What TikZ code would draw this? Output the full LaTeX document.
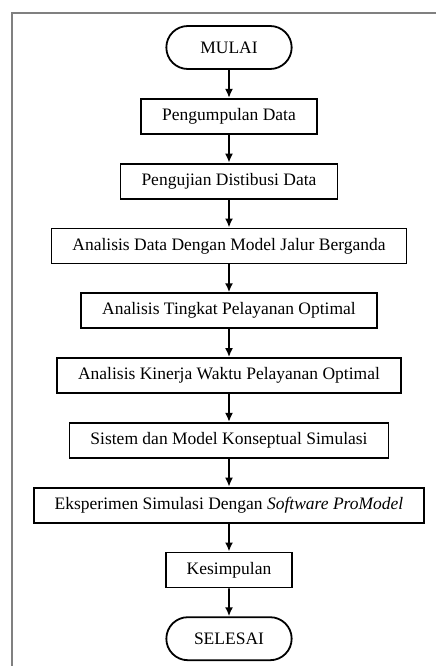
\documentclass[tikz,border=0pt]{standalone}
\usepackage{fontspec}
\setmainfont{Liberation Serif}
\usetikzlibrary{positioning}
\usetikzlibrary{arrows.meta}
\usetikzlibrary{shapes.misc}

\begin{document}
\begin{tikzpicture}[x=1pt, y=-1pt, node distance={28pt},
    proses/.style = {draw, line width=1.8pt, rectangle, minimum height=35pt, inner xsep=21pt, font=\fontsize{17.5}{19}\selectfont},
    terminal/.style = {draw, line width=1.8pt, rounded rectangle, minimum width=132pt, minimum height=43pt, font=\fontsize{17.5}{19}\selectfont},
    panah/.style = {-{Latex[length=9pt, width=8pt]}, line width=1.8pt}]
    \useasboundingbox (0,0) rectangle (436,666);
    \draw[line width=2pt, gray] (436,13) -- (12,13) -- (12,666);

    \node[terminal] (mulai) at (229,47.5) {MULAI};
    \node[proses] (kumpul) [below=of mulai] {Pengumpulan Data};
    \node[proses] (uji) [below=of kumpul] {Pengujian Distibusi Data};
    \node[proses] (jalur) [below=of uji] {Analisis Data Dengan Model Jalur Berganda};
    \node[proses] (tingkat) [below=of jalur] {Analisis Tingkat Pelayanan Optimal};
    \node[proses] (kinerja) [below=of tingkat] {Analisis Kinerja Waktu Pelayanan Optimal};
    \node[proses] (sistem) [below=of kinerja] {Sistem dan Model Konseptual Simulasi};
    \node[proses] (eksperimen) [below=of sistem] {Eksperimen Simulasi Dengan \textit{Software ProModel}};
    \node[proses] (simpul) [below=of eksperimen] {Kesimpulan};
    \node[terminal] (selesai) [below=of simpul] {SELESAI};

    \draw[panah] (mulai) -- (kumpul);
    \draw[panah] (kumpul) -- (uji);
    \draw[panah] (uji) -- (jalur);
    \draw[panah] (jalur) -- (tingkat);
    \draw[panah] (tingkat) -- (kinerja);
    \draw[panah] (kinerja) -- (sistem);
    \draw[panah] (sistem) -- (eksperimen);
    \draw[panah] (eksperimen) -- (simpul);
    \draw[panah] (simpul) -- (selesai);
\end{tikzpicture}
\end{document}
